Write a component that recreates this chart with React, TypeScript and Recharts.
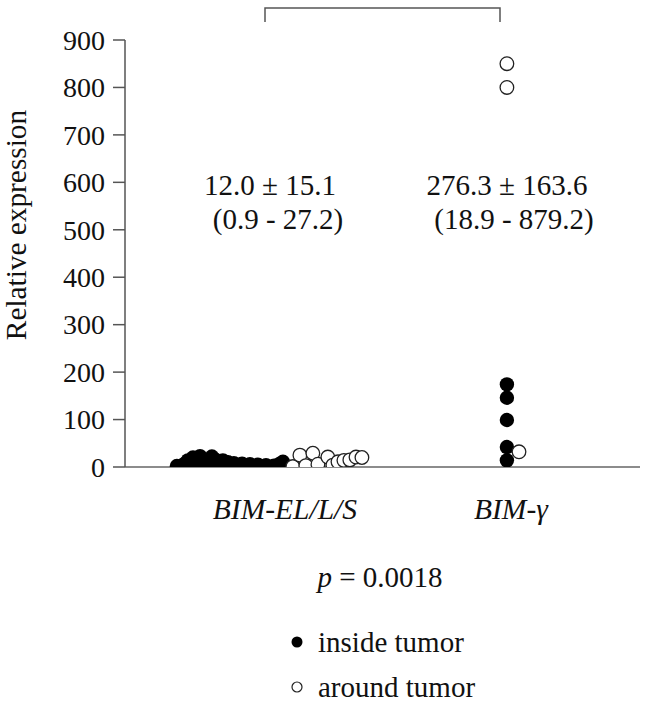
import React from 'react';
import { ScatterChart, Scatter, XAxis, YAxis } from 'recharts';

const categories = ['BIM-EL/L/S', 'BIM-γ'];
const yTicks = [0, 100, 200, 300, 400, 500, 600, 700, 800, 900];

// BIM-EL/L/S inside tumor (jitter offset from category, value)
const insideElOffsets = [-0.491, -0.459, -0.441, -0.418, -0.4, -0.386, -0.364, -0.35, -0.332, -0.318, -0.3, -0.282, -0.259, -0.232, -0.195, -0.159, -0.123, -0.086, -0.05, -0.023, -0.009];
const insideElValues = [2, 6, 14, 20, 8, 23, 12, 3, 22, 16, 4, 14, 10, 8, 7, 6, 5, 4, 3, 7, 11];
// BIM-EL/L/S around tumor
const aroundElOffsets = [0.036, 0.068, 0.095, 0.127, 0.15, 0.195, 0.218, 0.241, 0.268, 0.295, 0.323, 0.35];
const aroundElValues = [1, 25, 3, 29, 6, 21, 4, 11, 14, 15, 21, 20];
// BIM-gamma inside tumor
const insideGOffsets = [0.009, 0.009, 0.009, 0.009, 0.009];
const insideGValues = [174, 146, 99, 42, 14];
// BIM-gamma around tumor
const aroundGOffsets = [0.009, 0.009, 0.064];
const aroundGValues = [850, 800, 32];

const statsMean = ['12.0 ± 15.1', '276.3 ± 163.6'];
const statsRange = ['(0.9 - 27.2)', '(18.9 - 879.2)'];
const pText = '0.0018';
const legendLabels = ['inside tumor', 'around tumor'];

const build = (cat: number, offs: number[], vals: number[]) =>
  offs.map((o, i) => ({ x: cat + o, y: vals[i] }));

const insideData = [...build(1, insideElOffsets, insideElValues), ...build(2, insideGOffsets, insideGValues)];
const aroundData = [...build(1, aroundElOffsets, aroundElValues), ...build(2, aroundGOffsets, aroundGValues)];

const FONT = "'Liberation Serif', 'Times New Roman', Times, serif";
const fs = { fontFamily: FONT };

const FilledDot = (p: any) => <circle cx={p.cx} cy={p.cy} r={7.2} fill="#000" />;
const OpenDot = (p: any) => (
  <circle cx={p.cx} cy={p.cy} r={6.8} fill="#fff" stroke="#222" strokeWidth={1.3} />
);

const CatTick = (p: any) => (
  <text x={p.x + (p.payload.value === 2 ? 6 : 0)} y={p.y + 44} textAnchor="middle" style={fs} fontSize={29.5} fontStyle="italic" fill="#111">
    {categories[p.payload.value - 1]}
  </text>
);

const NumTick = (p: any) => (
  <text x={p.x} y={p.y} dy="0.35em" textAnchor="end" style={fs} fontSize={28} fill="#111">
    {p.payload.value}
  </text>
);

export default function App() {
  return (
    <div style={{ position: 'absolute', left: 0, top: 0, width: 668, height: 719, background: '#fff', fontFamily: FONT }}>
      <ScatterChart width={668} height={719} margin={{ top: 40, right: 28, bottom: 212, left: 0 }}>
        <XAxis
          type="number"
          dataKey="x"
          domain={[0.273, 2.614]}
          ticks={[1, 2]}
          tick={<CatTick />}
          tickLine={false}
          axisLine={{ stroke: '#666', strokeWidth: 1.5 }}
          height={40}
          allowDataOverflow
        />
        <YAxis
          type="number"
          dataKey="y"
          domain={[0, 900]}
          ticks={yTicks}
          width={125}
          tickSize={12}
          tickMargin={8}
          axisLine={{ stroke: '#555', strokeWidth: 1.5 }}
          tickLine={{ stroke: '#555', strokeWidth: 1.5 }}
          tick={<NumTick />}
          allowDataOverflow
        />
        <Scatter data={insideData} shape={<FilledDot />} isAnimationActive={false} />
        <Scatter data={aroundData} shape={<OpenDot />} isAnimationActive={false} />
      </ScatterChart>
      <svg width={668} height={719} style={{ position: 'absolute', left: 0, top: 0, pointerEvents: 'none', fontFamily: FONT }}>
        <path d="M265,22 V8 H500 V22" fill="none" stroke="#555" strokeWidth={1.5} />
        <text transform="translate(16,225) rotate(-90)" textAnchor="middle" dominantBaseline="central" style={fs} fontSize={29.3} fill="#111">
          Relative expression
        </text>
        <g style={fs} fontSize={29} fill="#111" textAnchor="middle">
          <text x={270} y={195}>{statsMean[0]}</text>
          <text x={278} y={229}>{statsRange[0]}</text>
          <text x={507} y={195}>{statsMean[1]}</text>
          <text x={514} y={229}>{statsRange[1]}</text>
          <text x={380} y={587}>
            <tspan fontStyle="italic">p</tspan> = {pText}
          </text>
        </g>
        <circle cx={297} cy={642} r={5.5} fill="#000" />
        <circle cx={297} cy={687} r={5} fill="#fff" stroke="#222" strokeWidth={1.2} />
        <g style={fs} fontSize={29} fill="#111">
          <text x={318} y={652}>{legendLabels[0]}</text>
          <text x={318} y={697}>{legendLabels[1]}</text>
        </g>
      </svg>
    </div>
  );
}
